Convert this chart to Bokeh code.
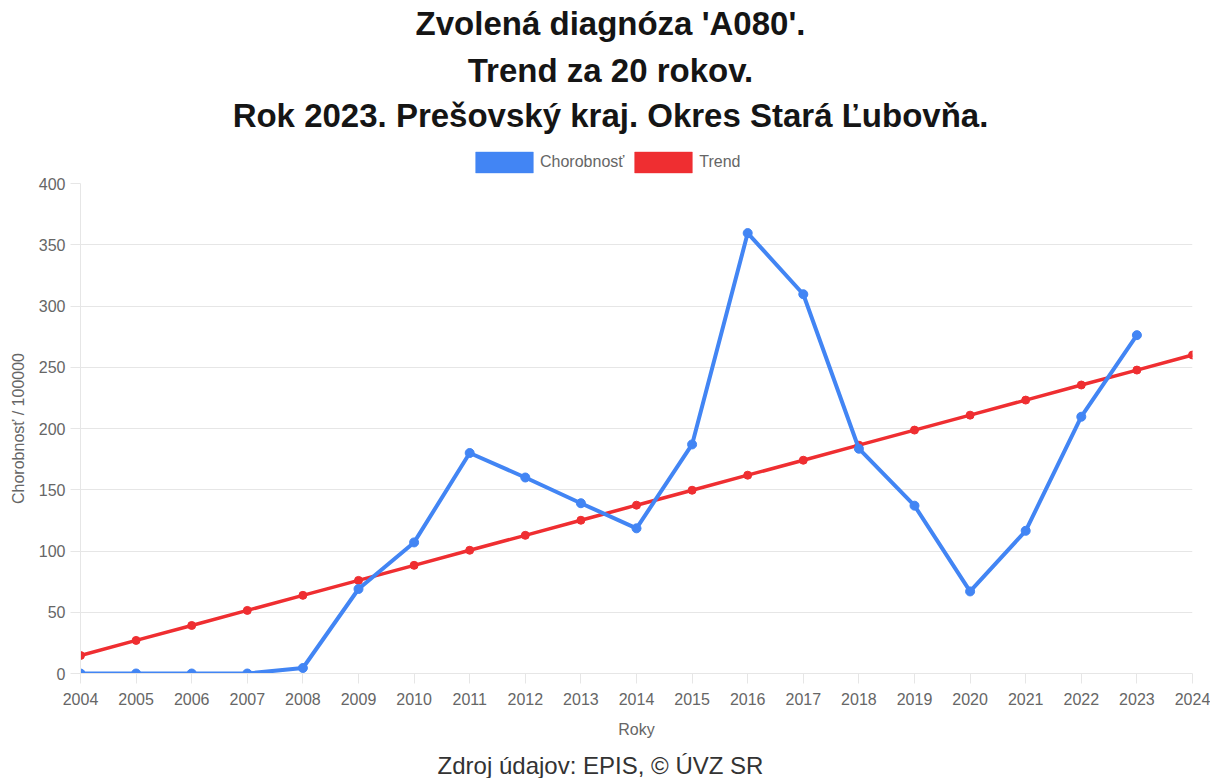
from bokeh.plotting import figure
from bokeh.layouts import column
from bokeh.models import Range1d, Label, Legend, LegendItem, SingleIntervalTicker
from bokeh.embed import file_html
from bokeh.resources import INLINE

# ---- data ----
years = [2004, 2005, 2006, 2007, 2008, 2009, 2010, 2011, 2012, 2013,
         2014, 2015, 2016, 2017, 2018, 2019, 2020, 2021, 2022, 2023]
morbidity = [0, 0, 0, 0, 4.5, 69, 107, 180, 160, 139,
             118.5, 187, 359.5, 309.6, 183.5, 137, 67, 116.5, 209.6, 276.2]
trend_years = [2004, 2005, 2006, 2007, 2008, 2009, 2010, 2011, 2012, 2013, 2014,
               2015, 2016, 2017, 2018, 2019, 2020, 2021, 2022, 2023, 2024]
trend = [14.7, 27.0, 39.2, 51.5, 63.8, 76.0, 88.3, 100.6, 112.8, 125.1, 137.4,
         149.6, 161.9, 174.1, 186.4, 198.7, 210.9, 223.2, 235.5, 247.7, 260.0]
title_lines = ["Zvolená diagnóza 'A080'.", "Trend za 20 rokov.",
               "Rok 2023. Prešovský kraj. Okres Stará Ľubovňa."]
series_names = ["Chorobnosť", "Trend"]
x_title = "Roky"
y_title = "Chorobnosť / 100000"
source_text = "Zdroj údajov: EPIS, © ÚVZ SR"

BLUE = "#4285F4"
RED = "#EF2E31"
GRID = "#e6e6e6"
TXT = "#666666"
FONT = "Liberation Sans"

W = 1210
H_HEAD, H_MAIN, H_FOOT = 175, 565, 38


def blank(h):
    f = figure(width=W, height=h, output_backend="svg", toolbar_location=None,
               x_range=Range1d(1, 2), y_range=Range1d(1, 2),
               x_axis_location=None, y_axis_location=None, min_border=0,
               outline_line_color=None, background_fill_color="white",
               border_fill_color="white")
    f.xgrid.visible = False
    f.ygrid.visible = False
    return f


# ---- header: titles + legend ----
# (frame of the header is aligned with the chart frame, which starts at x=80)
head = blank(H_HEAD)
for txt, yy in zip(title_lines, [152, 105, 60]):
    head.add_layout(Label(x=530, y=yy, x_units="screen", y_units="screen",
                          text=txt, text_align="center", text_baseline="alphabetic",
                          text_font=FONT, text_font_size="33px",
                          text_font_style="bold", text_color="#151515"))
# legend proxies: zero-size boxes outside the visible range, only used for the key
q_blue = head.quad(left=[0], right=[0], top=[0], bottom=[0], fill_color=BLUE,
                   line_color=BLUE, line_alpha=0.5)
q_red = head.quad(left=[0], right=[0], top=[0], bottom=[0], fill_color=RED,
                  line_color=RED, line_alpha=0.5)
legend = Legend(items=[LegendItem(label=series_names[0], renderers=[q_blue]),
                       LegendItem(label=series_names[1], renderers=[q_red])],
                orientation="horizontal", location=(388, 0),
                glyph_width=72, glyph_height=26, label_height=26,
                label_standoff=0, spacing=3, padding=0, margin=0,
                border_line_color=None, background_fill_alpha=0,
                label_text_font=FONT, label_text_font_size="16px",
                label_text_color=TXT)
head.add_layout(legend, "center")

# ---- main chart ----
p = figure(width=W, height=H_MAIN, output_backend="svg", toolbar_location=None,
           x_range=Range1d(2004, 2024), y_range=Range1d(0, 400),
           min_border_left=80, min_border_right=18, min_border_top=8,
           min_border_bottom=66, background_fill_color="white",
           border_fill_color="white", outline_line_color=None)

p.xgrid.grid_line_color = None
p.ygrid.grid_line_color = GRID
p.ygrid.ticker = SingleIntervalTicker(interval=50)

p.xaxis.ticker = SingleIntervalTicker(interval=1)
p.yaxis.ticker = SingleIntervalTicker(interval=50)
for ax in (p.xaxis[0], p.yaxis[0]):
    ax.axis_line_color = GRID
    ax.major_tick_line_color = GRID
    ax.minor_tick_line_color = None
    ax.major_tick_in = 0
    ax.major_tick_out = 10
    ax.major_label_text_font = FONT
    ax.major_label_text_font_size = "16px"
    ax.major_label_text_color = TXT
    ax.axis_label_text_font = FONT
    ax.axis_label_text_font_size = "16px"
    ax.axis_label_text_color = TXT
    ax.axis_label_text_font_style = "normal"
p.xaxis.major_label_standoff = 9
p.yaxis.major_label_standoff = 5
p.xaxis.axis_label = x_title
p.yaxis.axis_label = y_title
p.xaxis.axis_label_standoff = 13
p.yaxis.axis_label_standoff = 9

# trend first (drawn below), then morbidity
p.line(trend_years, trend, line_color=RED, line_width=3.5)
p.scatter(trend_years, trend, size=8, fill_color=RED, line_color=RED)
p.line(years, morbidity, line_color=BLUE, line_width=4)
p.scatter(years, morbidity, size=9, fill_color=BLUE, line_color=BLUE)

# ---- footer ----
foot = blank(H_FOOT)
foot.add_layout(Label(x=520, y=13, x_units="screen", y_units="screen",
                      text=source_text, text_align="center",
                      text_baseline="alphabetic", text_font=FONT,
                      text_font_size="24px", text_color="#333333"))

layout = column(head, p, foot, spacing=0)
open("out.html", "w").write(file_html(layout, INLINE))
